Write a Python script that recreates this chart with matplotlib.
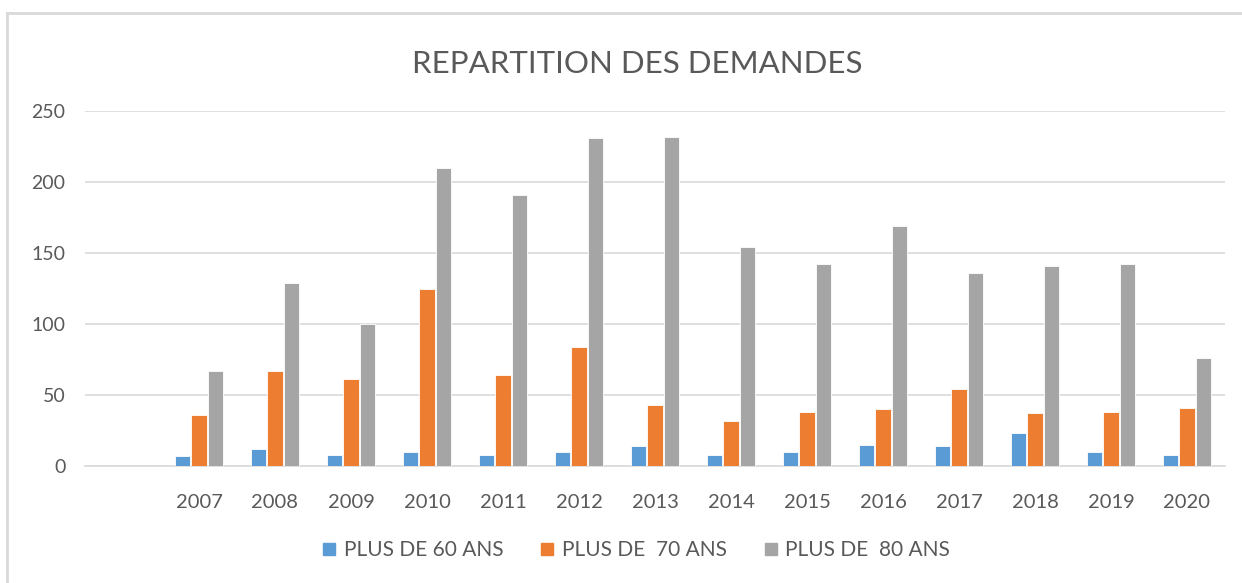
import matplotlib
matplotlib.use("Agg")
import matplotlib.pyplot as plt
import numpy as np
from matplotlib.lines import Line2D

# categories (first slot is empty in the original sheet)
years = ["", "2007", "2008", "2009", "2010", "2011", "2012", "2013",
         "2014", "2015", "2016", "2017", "2018", "2019", "2020"]
plus60 = [0, 7, 12, 8, 10, 8, 10, 14, 8, 10, 15, 14, 23, 10, 8]
plus70 = [0, 36, 67, 61, 125, 64, 84, 43, 32, 38, 40, 54, 37, 38, 41]
plus80 = [0, 67, 129, 100, 210, 191, 231, 232, 154, 142, 169, 136, 141, 142, 76]
labels = ["PLUS DE 60 ANS", "PLUS DE  70 ANS", "PLUS DE  80 ANS"]
colors = ["#5B9BD5", "#ED7D31", "#A5A5A5"]

plt.rcParams['font.family'] = ['Lato', 'DejaVu Sans']
txt = "#595959"

fig = plt.figure(figsize=(12.42, 5.83), dpi=100)
ax = fig.add_axes([85/1242, 1-466/583, (1225-85)/1242, (466-111)/583])

x = np.arange(len(years))
step = 0.22
w = 0.2
series = [plus60, plus70, plus80]
for i, s in enumerate(series):
    vals = np.array(s, dtype=float)
    ax.bar(x + (i-1)*step, vals, width=w, color=colors[i],
           edgecolor="white", linewidth=0.6, zorder=3, label=labels[i])

ax.set_xlim(-0.5, len(years)-0.5)
ax.set_ylim(0, 250)
ax.set_yticks([0, 50, 100, 150, 200, 250])
ax.yaxis.grid(True, color="#D9D9D9", linewidth=1.2, zorder=0)
ax.set_xticks(x)
ax.set_xticklabels(years)
ax.tick_params(axis='x', length=0, pad=20, labelsize=14.5, labelcolor=txt)
ax.tick_params(axis='y', length=0, pad=14, labelsize=14, labelcolor=txt)
for sp in ["top", "right", "left"]:
    ax.spines[sp].set_visible(False)
ax.spines["bottom"].set_color("#D9D9D9")
ax.spines["bottom"].set_linewidth(1.2)

fig.text(0.513, 1-64/583, "REPARTITION DES DEMANDES", ha="center", va="center",
         fontsize=22.5, color=txt)

handles = [Line2D([], [], marker="s", linestyle="none", markersize=9,
                  markerfacecolor=c, markeredgecolor=c) for c in colors]
fig.legend(handles, labels, loc="center", bbox_to_anchor=(0.511, 1-550/583),
           ncol=3, frameon=False, fontsize=15, labelcolor=txt,
           handletextpad=0.2, columnspacing=1.6, handlelength=1.0)

# outer chart border
fig.add_artist(Line2D([7/1242, 7/1242], [0, 1-13/583], transform=fig.transFigure,
                      color="#D9D9D9", linewidth=2))
fig.add_artist(Line2D([7/1242, 1], [1-13/583, 1-13/583], transform=fig.transFigure,
                      color="#D9D9D9", linewidth=2))

fig.savefig("out.png", dpi=100, facecolor="white")
